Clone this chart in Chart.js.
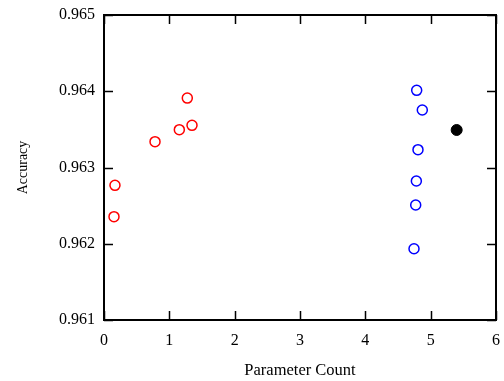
<!DOCTYPE html>
<html>
<head>
<meta charset="utf-8">
<script src="https://cdn.jsdelivr.net/npm/chart.js@4.4.1/dist/chart.umd.min.js"></script>
<style>
  html, body { margin: 0; padding: 0; background: #fff; }
  #wrap { width: 504px; height: 381px; position: relative; }
</style>
</head>
<body>
<div id="wrap"><canvas id="chart"></canvas></div>
<script>
// data
const redX = [1.275, 1.347, 1.153, 0.781, 0.168, 0.153];
const redY = [0.96391, 0.963553, 0.963496, 0.963339, 0.962766, 0.962355];
const blueX = [4.786, 4.872, 4.806, 4.781, 4.771, 4.745];
const blueY = [0.964012, 0.963754, 0.963234, 0.962823, 0.962508, 0.961935];
const blackX = [5.398];
const blackY = [0.963492];
const xTicks = [0, 1, 2, 3, 4, 5, 6];
const yTicks = [0.961, 0.962, 0.963, 0.964, 0.965];

const toPoints = (xs, ys) => xs.map((x, i) => ({ x: x, y: ys[i] }));
const serif = "'Liberation Serif', 'DejaVu Serif', serif";

// box around the plot with inward ticks on every side
const frame = {
  id: 'frame',
  afterDraw(chart) {
    const { ctx, chartArea: a, scales } = chart;
    const len = 9;
    ctx.save();
    ctx.strokeStyle = '#000';
    ctx.lineWidth = 1.5;
    ctx.beginPath();
    xTicks.forEach(v => {
      const px = Math.round(scales.x.getPixelForValue(v)) + 0.5;
      ctx.moveTo(px, a.bottom); ctx.lineTo(px, a.bottom - len);
      ctx.moveTo(px, a.top); ctx.lineTo(px, a.top + len);
    });
    yTicks.forEach(v => {
      const py = Math.round(scales.y.getPixelForValue(v)) + 0.5;
      ctx.moveTo(a.left, py); ctx.lineTo(a.left + len, py);
      ctx.moveTo(a.right, py); ctx.lineTo(a.right - len, py);
    });
    ctx.stroke();
    ctx.lineWidth = 2;
    ctx.strokeRect(a.left, a.top, a.right - a.left, a.bottom - a.top);
    ctx.restore();
  }
};

new Chart(document.getElementById('chart'), {
  type: 'scatter',
  data: {
    datasets: [
      {
        label: 'red',
        data: toPoints(redX, redY),
        borderColor: '#ff0000',
        backgroundColor: 'rgba(0,0,0,0)',
        borderWidth: 1.5,
        pointRadius: 5
      },
      {
        label: 'blue',
        data: toPoints(blueX, blueY),
        borderColor: '#0000ff',
        backgroundColor: 'rgba(0,0,0,0)',
        borderWidth: 1.5,
        pointRadius: 5
      },
      {
        label: 'black',
        data: toPoints(blackX, blackY),
        borderColor: '#000',
        backgroundColor: '#000',
        borderWidth: 1,
        pointRadius: 5.5
      }
    ]
  },
  options: {
    responsive: true,
    maintainAspectRatio: false,
    animation: false,
    layout: { padding: { top: 15, right: 8, left: 0, bottom: 0 } },
    plugins: { legend: { display: false }, tooltip: { enabled: false } },
    scales: {
      x: {
        type: 'linear',
        min: 0, max: 6,
        afterBuildTicks(scale) { scale.ticks = xTicks.map(v => ({ value: v })); },
        afterFit(scale) {
          scale.height = 61;
          scale.paddingLeft = 0;
          scale.paddingRight = 0;
        },
        grid: { display: false, drawTicks: false },
        border: { display: false },
        ticks: {
          color: '#000', padding: 11,
          font: { family: serif, size: 16 },
          callback: v => String(v)
        },
        title: {
          display: true, text: 'Parameter Count', color: '#000',
          font: { family: serif, size: 16.5, lineHeight: 1.2 },
          padding: { top: 1, bottom: 0 }
        }
      },
      y: {
        type: 'linear',
        min: 0.961, max: 0.965,
        afterBuildTicks(scale) { scale.ticks = yTicks.map(v => ({ value: v })); },
        afterFit(scale) {
          scale.width = 104;
          scale.paddingTop = 0;
          scale.paddingBottom = 0;
        },
        grid: { display: false, drawTicks: false },
        border: { display: false },
        ticks: {
          color: '#000', padding: 9,
          font: { family: serif, size: 16 },
          callback: v => v.toFixed(3)
        },
        title: {
          display: true, text: 'Accuracy', color: '#000',
          font: { family: serif, size: 14, lineHeight: 1.2 },
          padding: { top: 14.5, bottom: 0 }
        }
      }
    }
  },
  plugins: [frame]
});
</script>
</body>
</html>
